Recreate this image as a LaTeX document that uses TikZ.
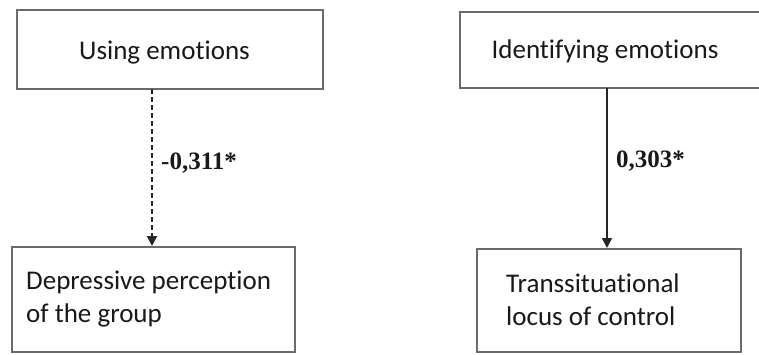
\documentclass[tikz,border=0pt]{standalone}
\usepackage{fontspec}
\setmainfont{Carlito}[Ligatures=NoCommon]
\newfontfamily\labelfont{Liberation Serif}
\usetikzlibrary{arrows.meta}
\begin{document}
\begin{tikzpicture}[x=1pt,y=-1pt,
  varbox/.style={draw=black!58, line width=2.6pt, fill=white, inner sep=0pt},
  boxfont/.style={font=\fontsize{27}{33}\selectfont, text=black!90, inner sep=0pt},
  vartext/.style={boxfont, align=left, anchor=base west},
  link/.style={line width=1.8pt, draw=black!85, -{Triangle[length=10pt,width=10pt]}},
  coef/.style={font=\labelfont\bfseries\fontsize{25}{29}\selectfont, text=black!90, anchor=base west, inner sep=0pt}]
  \useasboundingbox (0,0) rectangle (759,354);
  % boxes
  \node[varbox, minimum width=306pt, minimum height=79pt] (use) at (170,49.5) {};
  \node[varbox, minimum width=300pt, minimum height=76pt] (ident) at (610,50) {};
  \node[varbox, minimum width=283pt, minimum height=105pt] (dep) at (153.5,299.5) {};
  \node[varbox, minimum width=264pt, minimum height=103pt] (trans) at (609,300.5) {};
  % box texts
  \node[boxfont, anchor=base] (tuse) at (164.5,59) {Using emotions};
  \node[boxfont, anchor=base] (tident) at (605,58) {Identifying emotions};
  \node[vartext] (tdep) at (26,322) {Depressive perception\\of the group};
  \node[vartext] (ttrans) at (506,325) {Transsituational\\locus of control};
  % paths
  \coordinate (a1) at (152,89);
  \coordinate (a2) at (152,246);
  \coordinate (b1) at (607,88);
  \coordinate (b2) at (607,248);
  \draw[link, dashed, dash pattern=on 5pt off 3pt] (a1) -- (a2);
  \draw[link] (b1) -- (b2);
  % coefficients
  \node[coef] (c1) at (161,169) {-0,311*};
  \node[coef] (c2) at (616,167) {0,303*};
\end{tikzpicture}
\end{document}
